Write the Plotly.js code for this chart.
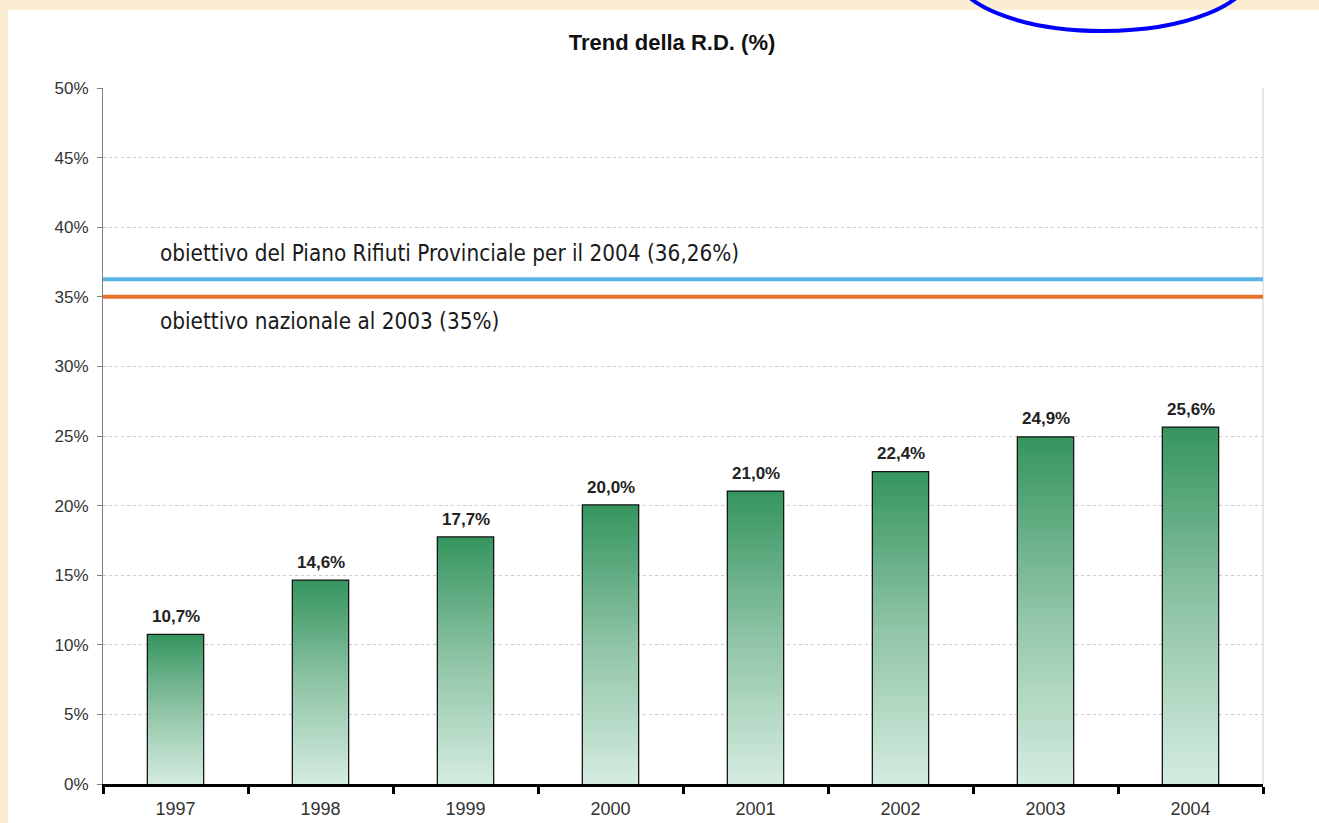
<!DOCTYPE html>
<html>
<head>
<meta charset="utf-8">
<script src="https://cdn.plot.ly/plotly-3.0.1.min.js"></script>
<style>
html,body{margin:0;padding:0;background:#faedd2;}
#chart{width:1319px;height:823px;}
</style>
</head>
<body>
<div id="chart"></div>
<script>
// ---- data ----
const years = ['1997','1998','1999','2000','2001','2002','2003','2004'];
const rdPercent = [10.7, 14.6, 17.7, 20.0, 21.0, 22.4, 24.9, 25.6];
const targetValues = [36.26, 35];
const targetLabels = [
  'obiettivo del Piano Rifiuti Provinciale per il 2004 (36,26%)',
  'obiettivo nazionale al 2003 (35%)'
];
const targetColors = ['#5ab4e6', '#e8742c'];
const chartTitle = 'Trend della R.D. (%)';

// ---- geometry helpers (pixel -> paper) ----
const L = 103, R = 56, T = 88, B = 39, W = 1319, H = 823;
const pw = W - L - R, ph = H - T - B;
const px = x => (x - L) / pw;
const py = y => (H - B - y) / ph;

const barWidth = 0.38;
const traces = [];

// gradient fills for each bar (numeric overlay axis aligned with categories)
rdPercent.forEach((v, i) => {
  const x0 = i - barWidth / 2, x1 = i + barWidth / 2;
  traces.push({
    type: 'scatter', mode: 'lines',
    x: [x0, x1, x1, x0, x0], y: [0, 0, v, v, 0],
    xaxis: 'x2', yaxis: 'y',
    fill: 'toself',
    fillgradient: {type: 'vertical', colorscale: [[0, '#d4ece0'], [0.5, '#8fc4a6'], [1, '#35955f']]},
    line: {width: 0},
    hoverinfo: 'skip', showlegend: false
  });
});

// bar outlines
traces.push({
  type: 'bar', x: years, y: rdPercent, width: barWidth,
  marker: {color: 'rgba(0,0,0,0)', line: {color: '#111', width: 2.5}},
  showlegend: false, hoverinfo: 'skip'
});

const shapes = [
  // white panel on cream background
  {type: 'rect', xref: 'paper', yref: 'paper', x0: px(8), x1: px(1330), y0: py(840), y1: py(10),
   fillcolor: '#ffffff', line: {width: 0}, layer: 'below'},
  // right border of plot
  {type: 'line', xref: 'paper', yref: 'paper', x0: 1, x1: 1, y0: 0, y1: 1,
   line: {color: '#cfcfcf', width: 1}},
  // blue ellipse top right
  {type: 'circle', xref: 'paper', yref: 'paper', x0: px(954), x1: px(1252), y0: py(31), y1: py(-89),
   line: {color: '#0000ff', width: 4}, fillcolor: 'rgba(0,0,0,0)'}
];
targetValues.forEach((v, i) => {
  shapes.push({type: 'line', xref: 'paper', yref: 'y', x0: 0, x1: 1, y0: v, y1: v,
    line: {color: targetColors[i], width: 4}});
});

const annotations = [
  {text: targetLabels[0], xref: 'paper', yref: 'paper', x: px(158), y: py(253), xanchor: 'left', yanchor: 'middle',
   showarrow: false, font: {family: 'DejaVu Sans Condensed', size: 22.3, color: '#1a1a1a'}},
  {text: targetLabels[1], xref: 'paper', yref: 'paper', x: px(158), y: py(321), xanchor: 'left', yanchor: 'middle',
   showarrow: false, font: {family: 'DejaVu Sans Condensed', size: 22.3, color: '#1a1a1a'}}
];
// value labels above bars (category axis positions are category indices)
rdPercent.forEach((v, i) => {
  annotations.push({
    text: v.toFixed(1).replace('.', ',') + '%', x: i, y: v, xref: 'x', yref: 'y',
    xanchor: 'center', yanchor: 'bottom', yshift: 7, showarrow: false,
    font: {family: 'Liberation Sans, Arial', size: 17, color: '#222', weight: 'bold'}
  });
});

const layout = {
  width: W, height: H,
  margin: {l: L, r: R, t: T, b: B, pad: 0},
  paper_bgcolor: '#faedd2', plot_bgcolor: '#ffffff',
  separators: ',.',
  title: {text: chartTitle, x: 672 / W, xanchor: 'center', y: 1 - 42 / H, yanchor: 'middle',
    font: {family: 'Liberation Sans, Arial', size: 22, color: '#111', weight: 'bold'}},
  xaxis: {
    type: 'category', range: [-0.5, 7.5], fixedrange: true,
    showline: true, linecolor: '#000', linewidth: 3,
    ticks: 'outside', tickson: 'boundaries', ticklen: 7, tickwidth: 3, tickcolor: '#000',
    ticklabelstandoff: 6,
    showgrid: false, zeroline: false,
    tickfont: {family: 'Liberation Sans, Arial', size: 18, color: '#333'}
  },
  xaxis2: {overlaying: 'x', range: [-0.5, 7.5], visible: false, fixedrange: true},
  yaxis: {
    range: [0, 50], dtick: 5, ticksuffix: '%',
    showline: true, linecolor: '#7f7f7f', linewidth: 1,
    ticks: 'outside', ticklen: 5, tickcolor: '#7f7f7f',
    ticklabelstandoff: 5,
    showgrid: true, gridcolor: '#cccccc', griddash: 'dot', gridwidth: 1,
    zeroline: false,
    tickfont: {family: 'Liberation Sans, Arial', size: 17, color: '#333'}
  },
  shapes: shapes,
  annotations: annotations,
  showlegend: false
};

Plotly.newPlot('chart', traces, layout, {displayModeBar: false, staticPlot: true});
</script>
</body>
</html>
